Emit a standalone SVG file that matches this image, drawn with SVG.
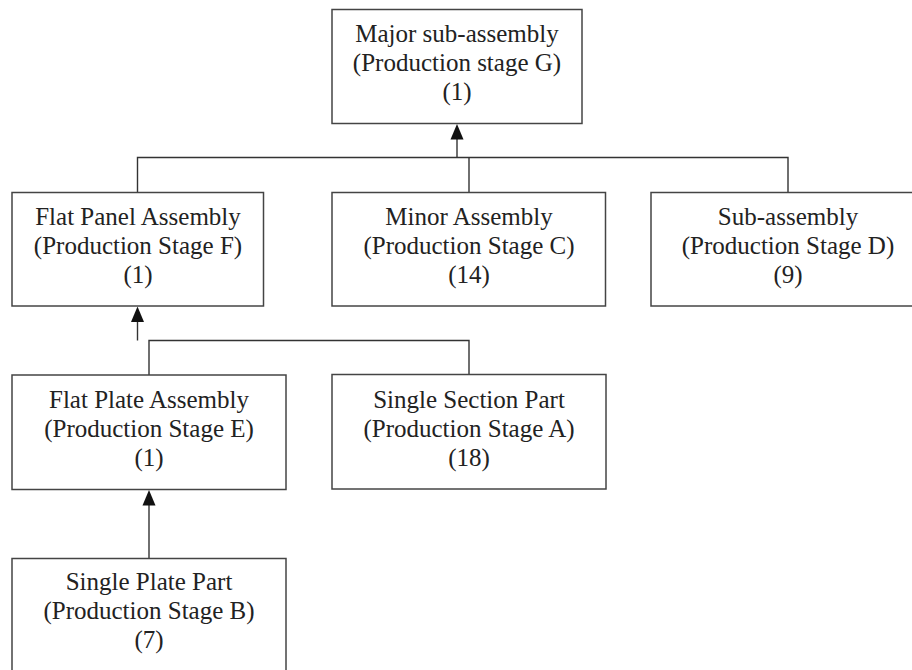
<svg xmlns="http://www.w3.org/2000/svg" width="912" height="670" viewBox="0 0 912 670">
<style>
.box{fill:#fff;stroke:#444;stroke-width:1.5}
.ln{fill:none;stroke:#333;stroke-width:1.4}
.ah{fill:#111}
text{font-family:"Liberation Serif","Times New Roman",serif;font-size:25px;fill:#222;text-anchor:middle}
</style>
<rect width="912" height="670" fill="#fff"/>
<g id="connectors">
<path class="ln" d="M457,157.5 V138"/>
<path class="ln" d="M137.5,192 V157.5 H788 V192"/>
<path class="ln" d="M469,157.5 V192"/>
<path class="ln" d="M137.5,340.5 V320"/>
<path class="ln" d="M149,375 V340.5 H469 V375"/>
<path class="ln" d="M149,558 V504"/>
<path class="ah" d="M450.5,139.5 L457,124 L463.5,139.5 Z"/>
<path class="ah" d="M131,322 L137.5,306.5 L144,322 Z"/>
<path class="ah" d="M142.5,505.5 L149,490 L155.5,505.5 Z"/>
</g>
<g id="node-g">
<rect class="box" x="332" y="9.5" width="250" height="114"/>
<text x="457" y="42">Major sub-assembly</text>
<text x="457" y="71">(Production stage G)</text>
<text x="457" y="100">(1)</text>
</g>
<g id="node-f">
<rect class="box" x="12" y="192.5" width="251.5" height="113.5"/>
<text x="138" y="225">Flat Panel Assembly</text>
<text x="138" y="254">(Production Stage F)</text>
<text x="138" y="283">(1)</text>
</g>
<g id="node-c">
<rect class="box" x="332" y="192.5" width="273.5" height="113.5"/>
<text x="469" y="225">Minor Assembly</text>
<text x="469" y="254">(Production Stage C)</text>
<text x="469" y="283">(14)</text>
</g>
<g id="node-d">
<rect class="box" x="651" y="192.5" width="274" height="113.5"/>
<text x="788" y="225">Sub-assembly</text>
<text x="788" y="254">(Production Stage D)</text>
<text x="788" y="283">(9)</text>
</g>
<g id="node-e">
<rect class="box" x="12" y="375" width="274" height="114.5"/>
<text x="149" y="408">Flat Plate Assembly</text>
<text x="149" y="437">(Production Stage E)</text>
<text x="149" y="466">(1)</text>
</g>
<g id="node-a">
<rect class="box" x="332" y="374.5" width="274" height="114.5"/>
<text x="469" y="408">Single Section Part</text>
<text x="469" y="437">(Production Stage A)</text>
<text x="469" y="466">(18)</text>
</g>
<g id="node-b">
<rect class="box" x="12" y="558.5" width="274" height="120"/>
<text x="149" y="590">Single Plate Part</text>
<text x="149" y="619">(Production Stage B)</text>
<text x="149" y="648">(7)</text>
</g>
</svg>
